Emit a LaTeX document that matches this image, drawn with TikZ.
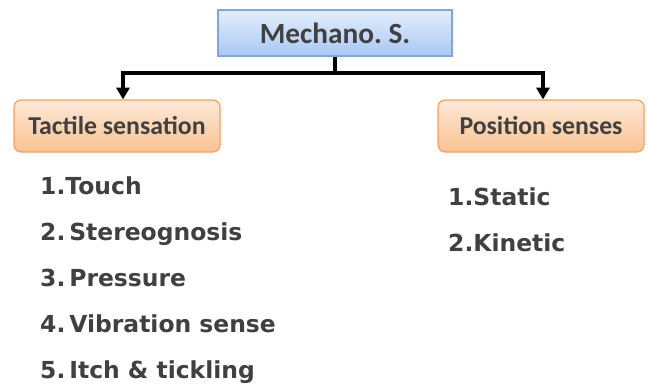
\documentclass[tikz,border=0pt]{standalone}
\usepackage{fontspec}
\setmainfont{DejaVu Sans}
\newfontfamily\boxfont{Carlito}
\usetikzlibrary{arrows.meta}
\frenchspacing

\definecolor{txtgray}{HTML}{404040}
\definecolor{blueedge}{HTML}{7EA6E0}
\definecolor{bluetop}{HTML}{E3EEFC}
\definecolor{bluebot}{HTML}{A9C8F3}
\definecolor{orangeedge}{HTML}{F5A25E}
\definecolor{orangetop}{HTML}{FDE9D9}
\definecolor{orangebot}{HTML}{FBC290}

\tikzset{
  headbox/.style={draw=blueedge, line width=1pt, top color=bluetop, bottom color=bluebot,
    minimum width=234*0.03cm, minimum height=46*0.03cm,
    font=\boxfont\bfseries\fontsize{25}{28}\selectfont, text=txtgray},
  groupbox/.style={draw=orangeedge, line width=1pt, rounded corners=6pt,
    top color=orangetop, bottom color=orangebot,
    minimum width=206*0.03cm, minimum height=52*0.03cm,
    font=\boxfont\bfseries\fontsize{22}{25}\selectfont, text=txtgray},
  item/.style={anchor=base west, inner sep=0pt, text=txtgray,
    font=\bfseries\fontsize{20}{24}\selectfont},
  link/.style={line width=2.8pt, -{Triangle[length=10pt,width=11pt]}}
}

\begin{document}
\begin{tikzpicture}[x=0.03cm, y=-0.03cm]
\useasboundingbox (0,0) rectangle (648,385);

% ----- Boxes -----
\node[headbox] (mech) at (335,33) {Mechano. S.};
\node[groupbox] (tact) at (117,126) {Tactile sensation};
\node[groupbox] (pos) at (541,126) {Position senses};

% ----- Connectors -----
\coordinate (split) at (335,73);
\draw[line width=2.8pt] (mech.south) -- (split);
\draw[link] (split) -| ([xshift=6*0.03cm]tact.north);
\draw[link] (split) -| ([xshift=2*0.03cm]pos.north);

% ----- Tactile list -----
\foreach \n/\y/\txt in {1/194/1.Touch, 2/240/2.\,Stereognosis, 3/286/3.\,Pressure,
  4/332/4.\,Vibration sense, 5/378/5.\,Itch \& tickling}{
  \node[item] (t\n) at (40,\y) {\txt};
}

% ----- Position list -----
\foreach \n/\y/\txt in {1/205/1.Static, 2/251/2.Kinetic}{
  \node[item] (s\n) at (448,\y) {\txt};
}
\end{tikzpicture}
\end{document}
